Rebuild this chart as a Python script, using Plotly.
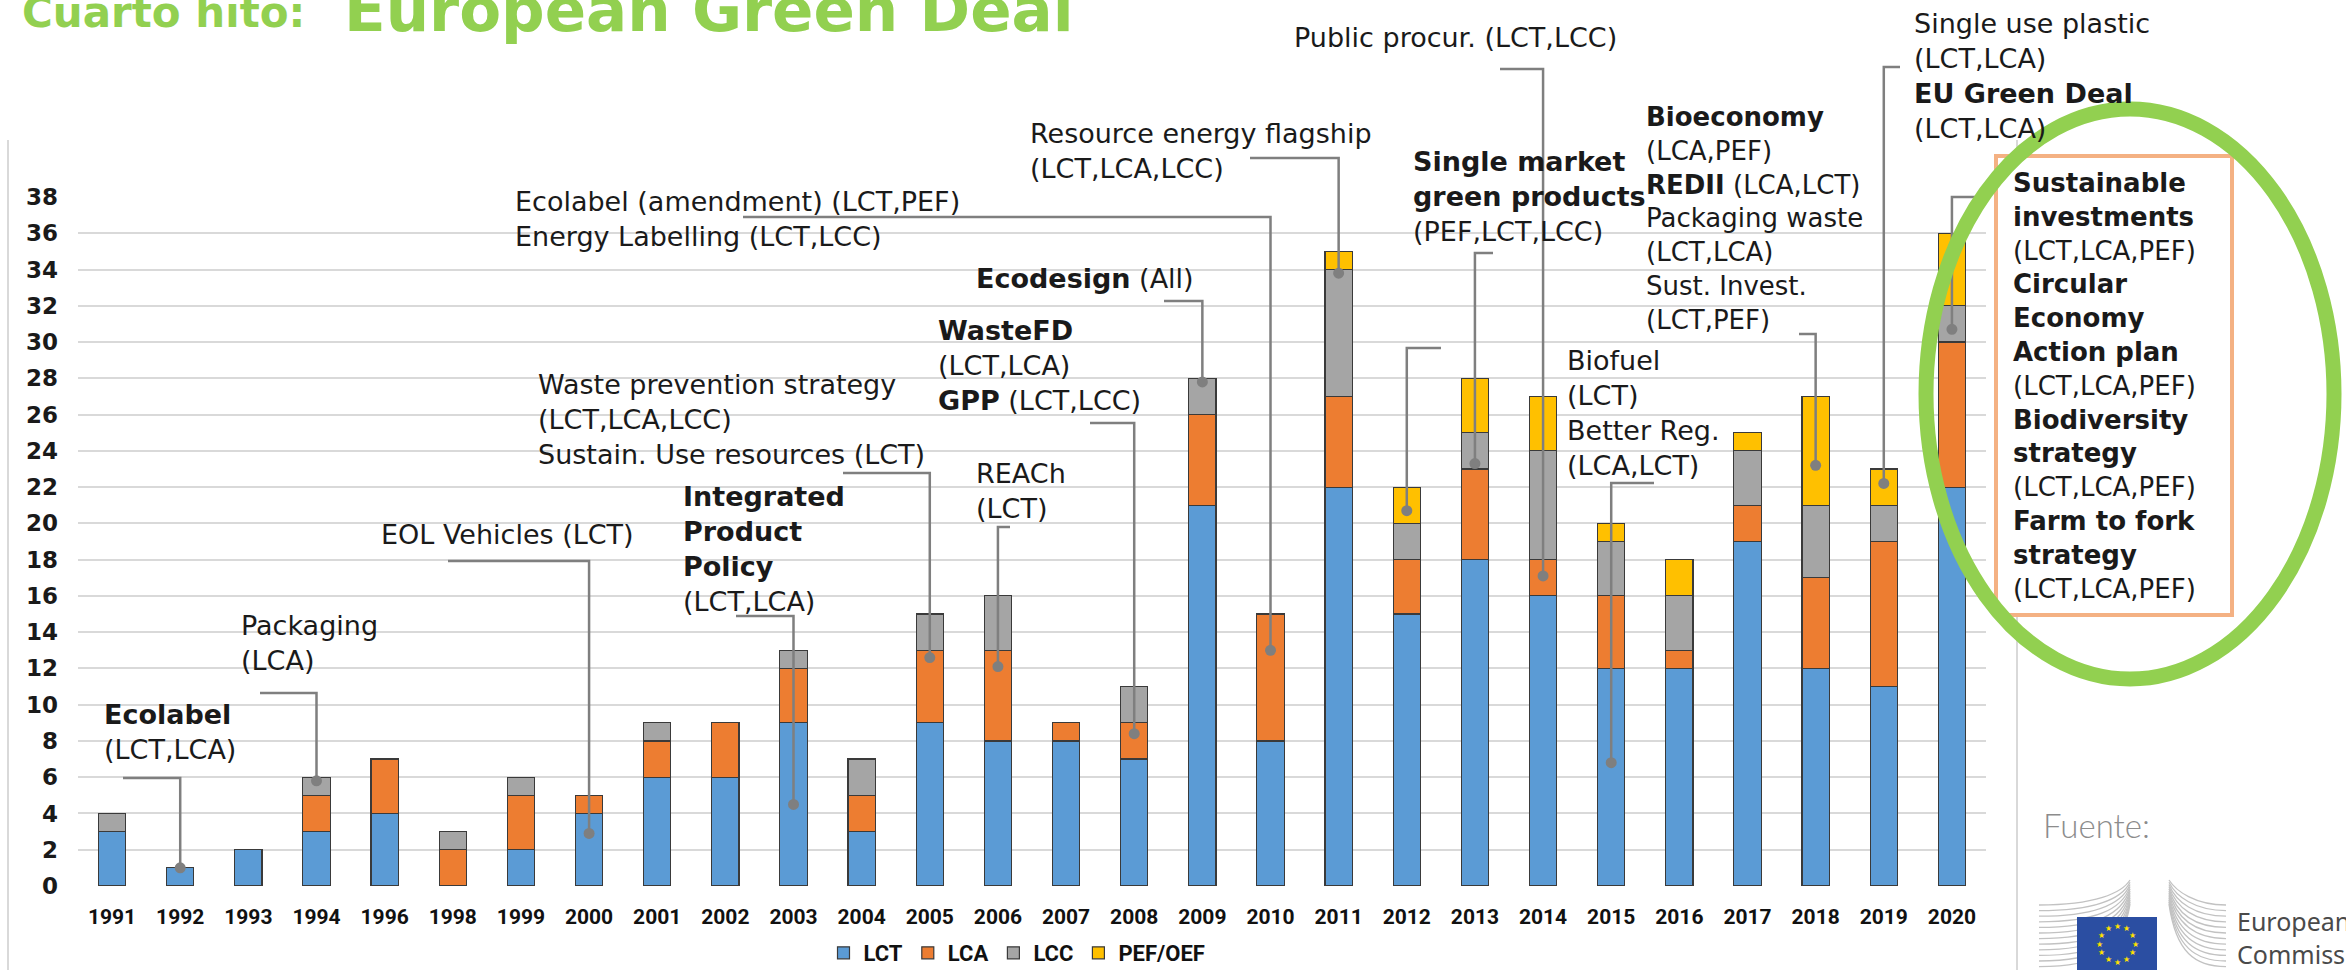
import math
import plotly.graph_objects as go

# ---------------- data ----------------
years = ["1991", "1992", "1993", "1994", "1996", "1998", "1999", "2000", "2001", "2002",
         "2003", "2004", "2005", "2006", "2007", "2008", "2009", "2010", "2011", "2012",
         "2013", "2014", "2015", "2016", "2017", "2018", "2019", "2020"]
lct = [3, 1, 2, 3, 4, 0, 2, 4, 6, 6, 9, 3, 9, 8, 8, 7, 21, 8, 22, 15, 18, 16, 12, 12, 19, 12, 11, 22]
lca = [0, 0, 0, 2, 3, 2, 3, 1, 2, 3, 3, 2, 4, 5, 1, 2, 5, 7, 5, 3, 5, 2, 4, 1, 2, 5, 8, 8]
lcc = [1, 0, 0, 1, 0, 1, 1, 0, 1, 0, 1, 2, 2, 3, 0, 2, 2, 0, 7, 2, 2, 6, 3, 3, 3, 4, 2, 2]
pef = [0, 0, 0, 0, 0, 0, 0, 0, 0, 0, 0, 0, 0, 0, 0, 0, 0, 0, 1, 2, 3, 3, 1, 2, 1, 6, 2, 4]
series_names = ["LCT", "LCA", "LCC", "PEF/OEF"]
series_colors = ["#5B9BD5", "#ED7D31", "#A5A5A5", "#FFC000"]

# where each callout's leader ends on a bar: (year, value)
pointer_year = ["1992", "1994", "2000", "2005", "2010", "2003", "2006", "2008", "2009",
                "2011", "2014", "2012", "2013", "2018", "2015", "2019", "2020"]
pointer_value = [1.0, 5.8, 2.9, 12.6, 13.0, 4.5, 12.1, 8.4, 27.8,
                 33.8, 17.1, 20.7, 23.3, 23.2, 6.8, 22.2, 30.7]

# ---------------- geometry (pixels) ----------------
W, H = 2346, 970
PL, PR, PT, PB = 78, 1986, 197, 886
YMAX = 38


def px(x):
    return (x - PL) / (PR - PL)


def py(y):
    return (PB - y) / (PB - PT)


def cat_x(year):
    return (years.index(year) + 0.5) / len(years)


def val_y(v):
    return v / YMAX


fig = go.Figure()
for name, vals, col in zip(series_names, [lct, lca, lcc, pef], series_colors):
    fig.add_trace(go.Bar(
        x=years, y=[v if v else None for v in vals], name=name,
        marker=dict(color=col, line=dict(color="#3A3A3A", width=1.2)),
    ))

TXT = "#1A1A1A"
LEAD = "#7F7F7F"

annotations = []
shapes = []


def add_text(x_left, y_first, text, size=27, nlines=None, color=TXT, family="DejaVu Sans"):
    n = text.count("<br>") + 1 if nlines is None else nlines
    lh = 1.3 * size
    yc = y_first + (n - 1) * lh / 2
    annotations.append(dict(
        xref="paper", yref="paper", x=px(x_left - 2), y=py(yc),
        xanchor="left", yanchor="middle", align="left", showarrow=False,
        text=text, font=dict(family=family, size=size, color=color),
    ))


# callout texts
add_text(104, 714, "<b>Ecolabel</b><br>(LCT,LCA)")
add_text(241, 625, "Packaging<br>(LCA)")
add_text(381, 534, "EOL Vehicles (LCT)")
add_text(538, 384, "Waste prevention strategy<br>(LCT,LCA,LCC)<br>Sustain. Use resources (LCT)")
add_text(515, 201, "Ecolabel (amendment) (LCT,PEF)<br>Energy Labelling (LCT,LCC)")
add_text(683, 496, "<b>Integrated</b><br><b>Product</b><br><b>Policy</b><br>(LCT,LCA)")
add_text(976, 473, "REACh<br>(LCT)")
add_text(938, 330, "<b>WasteFD</b><br>(LCT,LCA)<br><b>GPP</b> (LCT,LCC)")
add_text(976, 278, "<b>Ecodesign</b> (All)")
add_text(1030, 133, "Resource energy flagship<br>(LCT,LCA,LCC)")
add_text(1294, 38, "Public procur. (LCT,LCC)")
add_text(1413, 161, "<b>Single market</b><br><b>green products</b><br>(PEF,LCT,LCC)")
add_text(1646, 117, "<b>Bioeconomy</b><br>(LCA,PEF)<br><b>REDII</b> (LCA,LCT)<br>Packaging waste<br>"
                    "(LCT,LCA)<br>Sust. Invest.<br>(LCT,PEF)", size=26)
add_text(1567, 360, "Biofuel<br>(LCT)<br>Better Reg.<br>(LCA,LCT)")
add_text(1914, 23, "Single use plastic<br>(LCT,LCA)<br><b>EU Green Deal</b><br>(LCT,LCA)")

# leader lines: start x of horizontal stub, elbow y (pixels)
leader_start_x = [123, 260, 448, 843, 743, 736, 1010, 1090, 1164, 1250, 1500, 1441, 1493, 1799, 1654, 1900, 1982]
leader_elbow_y = [778, 693, 561, 473, 217, 616, 527, 423, 301, 158, 69, 348, 253, 334, 483, 67, 197]
for sx, ey, yr, v in zip(leader_start_x, leader_elbow_y, pointer_year, pointer_value):
    xd, yd = cat_x(yr), val_y(v)
    shapes.append(dict(
        type="path", xref="paper", yref="paper",
        path=f"M {px(sx)} {py(ey)} L {xd} {py(ey)} L {xd} {yd}",
        line=dict(color=LEAD, width=2.5),
    ))
    shapes.append(dict(
        type="circle", xref="paper", yref="paper", xsizemode="pixel", ysizemode="pixel",
        xanchor=xd, yanchor=yd, x0=-5.5, x1=5.5, y0=-5.5, y1=5.5,
        fillcolor=LEAD, line=dict(color=LEAD, width=0),
    ))

# chart frame vertical lines
for xline in [8, 2017]:
    shapes.append(dict(type="line", xref="paper", yref="paper",
                       x0=px(xline), x1=px(xline), y0=py(140), y1=py(975),
                       line=dict(color="#D9D9D9", width=2), layer="below"))

# orange box
shapes.append(dict(type="rect", xref="paper", yref="paper",
                   x0=px(1996), x1=px(2232), y0=py(156), y1=py(615),
                   fillcolor="white", line=dict(color="#F4B183", width=4)))
add_text(2013, 183, "<b>Sustainable</b><br><b>investments</b><br>(LCT,LCA,PEF)<br><b>Circular</b><br>"
                    "<b>Economy</b><br><b>Action plan</b><br>(LCT,LCA,PEF)<br><b>Biodiversity</b><br>"
                    "<b>strategy</b><br>(LCT,LCA,PEF)<br><b>Farm to fork</b><br><b>strategy</b><br>(LCT,LCA,PEF)",
         size=26)

# green ellipse
ECX, ECY, ERX, ERY = 2130, 394, 204, 285
shapes.append(dict(type="circle", xref="paper", yref="paper",
                   x0=px(ECX - ERX), x1=px(ECX + ERX), y0=py(ECY + ERY), y1=py(ECY - ERY),
                   line=dict(color="#92D050", width=15)))

# title
annotations.append(dict(xref="paper", yref="paper", x=px(20), y=py(13), xanchor="left", yanchor="middle",
                        showarrow=False, text="<b>Cuarto hito:</b>",
                        font=dict(family="DejaVu Sans", size=42, color="#92D050")))
annotations.append(dict(xref="paper", yref="paper", x=px(342), y=py(9), xanchor="left", yanchor="middle",
                        showarrow=False, text="<b>European Green Deal</b>",
                        font=dict(family="DejaVu Sans", size=61, color="#92D050")))

# source
annotations.append(dict(xref="paper", yref="paper", x=px(2041), y=py(825), xanchor="left", yanchor="middle",
                        showarrow=False, text="Fuente:",
                        font=dict(family="Lato", size=33, color="#8C8C8C", weight=300)))

# European Commission logo (simplified)
for k in range(12):
    yk = 905 + k * 5.6
    shapes.append(dict(type="path", xref="paper", yref="paper",
                       path=f"M {px(2039)} {py(yk)} C {px(2095)} {py(yk)}, {px(2122)} {py(yk - 12)}, {px(2130)} {py(880 + k * 2.2)}",
                       line=dict(color="#C2C2C2", width=1.3)))
    shapes.append(dict(type="path", xref="paper", yref="paper",
                       path=f"M {px(2169)} {py(880 + k * 2.2)} C {px(2176)} {py(yk - 14)}, {px(2195)} {py(yk)}, {px(2226)} {py(yk)}",
                       line=dict(color="#C2C2C2", width=1.3)))
shapes.append(dict(type="rect", xref="paper", yref="paper",
                   x0=px(2077), x1=px(2157), y0=py(917), y1=py(980),
                   fillcolor="#2B4EA2", line=dict(width=0)))
for k in range(12):
    a = 2 * math.pi * k / 12
    annotations.append(dict(xref="paper", yref="paper", x=px(2117 + 18 * math.sin(a)), y=py(944 - 18 * math.cos(a)),
                            xanchor="center", yanchor="middle", showarrow=False, text="★",
                            font=dict(family="DejaVu Sans", size=8, color="#FFE000")))
annotations.append(dict(xref="paper", yref="paper", x=px(2235), y=py(937), xanchor="left", yanchor="middle",
                        showarrow=False, text="European<br>Commission",
                        font=dict(family="Noto Sans", size=25, color="#4A4A4A"), align="left"))

fig.update_layout(
    template="none",
    barmode="stack", bargap=0.6,
    width=W, height=H,
    margin=dict(l=PL, r=W - PR, t=PT, b=H - PB, pad=0, autoexpand=False),
    plot_bgcolor="white", paper_bgcolor="white",
    showlegend=True,
    legend=dict(orientation="h", x=px(1017), xanchor="center", y=py(953), yanchor="middle",
                traceorder="normal", font=dict(family="Roboto", size=22, color="#111111", weight="bold"),
                bgcolor="rgba(0,0,0,0)", itemwidth=30),
    annotations=annotations,
    shapes=shapes,
)
fig.update_xaxes(type="category", range=[-0.5, 27.5], showgrid=False, showline=False, zeroline=False,
                 ticks="", automargin=False, ticklabelstandoff=16,
                 tickfont=dict(family="Roboto", size=21, color="#111111", weight="bold"))
fig.update_yaxes(range=[0, YMAX], dtick=2, showgrid=True, gridcolor="#D9D9D9", gridwidth=2,
                 zeroline=False, showline=False, ticks="", automargin=False, ticklabelstandoff=19,
                 tickfont=dict(family="DejaVu Sans", size=23, color="#1A1A1A", weight="bold"))

fig.write_html("out.html", config={"displayModeBar": False},
               post_script="document.body.style.margin='0';")
